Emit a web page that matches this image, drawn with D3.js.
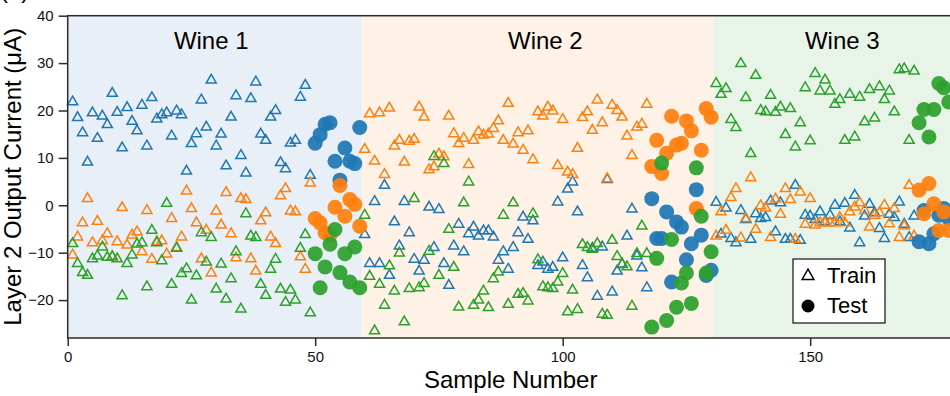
<!DOCTYPE html>
<html>
<head>
<meta charset="utf-8">
<script src="https://cdn.jsdelivr.net/npm/d3@7"></script>
<style>
  body { margin: 0; background: #fff; }
  svg { display: block; font-family: "Liberation Sans", Arial, sans-serif; }
</style>
</head>
<body>
<svg class="chart" width="950" height="396"></svg>
<script>
// wine classes and where each one sits on the sample axis
const wines = ["Wine 1", "Wine 2", "Wine 3"]
const wineBounds = [0, 59.5, 130.5, 179]
const wineLabelAt = [29, 96.5, 156.5]

// sample numbers used for training / testing in each wine class
const trainRanges = [[1, 49], [60, 117], [131, 171]]
const testRanges = [[50, 59], [118, 130], [172, 178]]

// layer 2 output currents (uA), train samples in sample order
const trainOut1 = [
  21.8, 18.5, 15.3, 9.1, 19.5, 14.1, 18.8, 17.0, 23.6, 19.6, 12.1, 20.6, 17.7, 15.7, 21.1, 12.5, 22.7, 18.2, 19.1, 19.5,
  14.6, 19.9, 19.1, 7.2, 13.0, 15.1, 22.2, 16.5, 26.4, 12.5, 15.0, 8.3, 18.6, 23.1, 10.5, 6.8, 22.5, 26.0, 15.0, 13.7,
  18.6, 20.0, 9.0, 7.7, 13.1, 13.7, 22.8, 25.3, 6.3,
  -6.2, -12.3, 0.8, -12.3, 4.2, -14.8, -3.5, -8.6, 0.8, -5.8, -11.4, -13.9, -11.6, -0.4, -8.9, -0.9, -12.3, -16.9, -8.6, -4.0,
  -9.8, -6.0, -4.6, -6.5, -5.4, -5.4, -6.7, -11.6, -9.8, -13.5, -8.9, -5.8, -2.5, -7.2, -3.3, -12.7, -12.0, -13.5, -13.1, 0.7,
  -11.1, 3.4, 4.9, -1.4, -12.7, -15.3, -9.1, -19.2, -8.8, 5.4, -18.3, -13.9, -12.4, -6.5, -0.8, -10.7, -13.2, -17.4,
  0.6, -6.1, -0.6, -7.0, -7.9, -1.1, -3.0, -7.2, -1.8, -2.8, -2.6, 0.9, -5.6, 0.5, -7.2, -7.2, 4.2, -7.4, -2.1, -2.3,
  -3.0, -1.4, -3.5, -2.1, 0.0, -3.5, 0.4, -4.8, 2.1, -7.9, -2.3, 0.2, -1.6, -4.9, -7.0, -1.9, -2.6, 0.7, -4.0, -6.8, -2.3
]
const trainOut2 = [
  -10.5, -6.7, -3.7, 1.4, -7.9, -3.4, -7.5, -6.0, -10.8, -7.7, -0.5, -8.4, -6.3, -5.6, -9.8, -1.1, -11.4, -7.7, -7.5, -10.3,
  -2.8, -8.9, -6.7, 3.0, -0.7, -3.7, -11.3, -5.3, -14.3, -1.2, -4.2, 2.7, -6.0, -11.1, 1.4, 1.2, -11.3, -13.9, -3.3, -1.6,
  -6.7, -8.1, 2.0, 3.5, -1.2, -1.4, -10.9, -13.5, 4.7,
  11.8, 19.3, 9.3, 19.5, 6.5, 20.5, 12.5, 13.7, 9.1, 13.5, 13.9, 20.7, 18.6, 7.5, 8.1, 10.8, 10.2, 18.8, 15.1, 13.0,
  14.1, 8.6, 13.7, 15.5, 14.8, 15.0, 16.2, 17.8, 13.7, 21.5, 12.9, 15.3, 11.6, 15.7, 9.6, 19.7, 18.8, 20.7, 19.9, 8.4,
  18.1, 7.0, 6.5, 12.0, 18.5, 19.7, 15.8, 22.2, 17.4, 5.6, 21.1, 20.0, 18.6, 14.6, 10.5, 16.5, 17.1, 21.3,
  -6.5, -1.4, -5.3, 1.6, 3.5, -6.9, -2.8, 5.8, -5.1, -0.1, -0.6, -6.8, 1.3, -1.9, 3.5, 1.2, -7.2, 2.8, -4.0, 1.4,
  -4.2, -3.7, -3.7, -3.7, -3.7, -2.6, -3.7, -1.4, -0.4, 0.5, -1.1, -4.6, -2.1, -1.6, 0.0, -3.9, -0.7, -6.8, -4.4, 4.2, -6.5
]
const trainOut3 = [
  -8.1, -12.3, -14.2, -14.8, -11.3, -10.7, -8.8, -11.0, -10.9, -11.3, -19.1, -12.3, -10.5, -8.2, -7.9, -17.2, -5.3, -7.9, -11.7, 0.4,
  -16.7, -9.1, -14.4, -13.4, -20.0, -14.9, -5.8, -12.0, -6.8, -17.7, -12.4, -19.8, -15.5, -9.8, -21.9, -1.8, -6.5, -6.8, -16.7, -19.0,
  -13.5, -11.4, -17.7, -20.5, -17.9, -20.0, -9.1, -6.2, -22.7,
  -2.1, -15.0, -26.5, -16.7, -21.1, -12.8, -18.1, -10.1, -24.6, -17.6, 1.4, -17.4, -16.5, -9.7, 10.3, -14.8, 8.8, -5.1, -13.1, -21.5,
  0.5, 4.9, -21.1, -20.0, -18.1, -21.6, -15.5, -14.1, -2.1, -20.9, 0.5, -18.8, -18.6, -20.2, -1.8, -11.5, -17.2, -17.4, -17.6, -16.2,
  -14.4, -22.5, -17.9, -22.0, -8.3, -8.9, -9.3, -8.1, -23.0, -23.2, -7.4, -10.8, -12.5, -13.0, -21.3, -10.2, -4.4, -10.2,
  25.7, 23.4, 24.6, 18.1, 16.4, 29.9, 22.7, 10.9, 27.4, 20.0, 19.7, 23.2, 19.6, 20.7, 14.9, 20.4, 12.3, 17.4, 24.8, 13.6,
  27.8, 24.1, 26.4, 24.1, 21.3, 22.3, 13.7, 23.4, 14.4, 22.8, 17.6, 24.4, 18.4, 25.0, 22.3, 24.1, 19.7, 28.6, 28.8, 13.7, 28.3
]

// test samples in sample order
const testOut1 = [
  13.1, 14.9, 17.1, 17.4, 9.3, 5.3, 12.1, 9.3, 8.8, 16.4,
  1.4, -7.0, -7.0, -1.4, -16.2, -3.5, -4.6, -11.5, -8.1, 3.3, -6.3, -14.8, -13.7,
  -7.7, -1.1, -8.1, -6.0, -2.1, -0.7, -2.8
]
const testOut2 = [
  -2.8, -3.7, -5.8, -6.3, -0.4, 4.2, -2.3, 1.2, 0.2, -4.4,
  8.2, 13.7, 6.7, 11.0, 18.8, 12.7, 13.1, 17.8, 15.7, -0.7, 11.6, 20.4, 18.6,
  3.2, -1.8, 4.6, 0.3, -5.3, -1.4, -5.3
]
const testOut3 = [
  -10.2, -17.4, -13.0, -8.2, -5.1, -14.2, -10.2, -16.2, -8.8, -17.4,
  -25.7, -11.2, 8.9, -24.3, -7.2, -21.5, -16.4, -14.3, -20.7, 7.9, -2.3, -14.3, -9.8,
  17.4, 20.2, 14.4, 20.2, 25.7, 24.8, 21.8
]

const xTicks = [0, 50, 100, 150]
const yTicks = [-20, -10, 0, 10, 20, 30, 40]

const colors = ["#1f77b4", "#ff7f0e", "#2ca02c"]
const bandColors = ["#e8eff6", "#fef1e6", "#e9f4e9"]

var width = 950
    height = 396
    margin = {top: 15.7, right: -3.7, bottom: 58, left: 67.7}

const svg = d3.select(".chart")

const x = d3.scaleLinear().domain([0, 179]).range([margin.left, width - margin.right])
const y = d3.scaleLinear().domain([-28, 40]).range([height - margin.bottom, margin.top])

function samples(ranges){
  var s = []
  ranges.forEach(r => { s = s.concat(d3.range(r[0], r[1] + 1)) })
  return s
}
const trainX = samples(trainRanges)
const testX = samples(testRanges)

// shaded class bands
svg.selectAll('band')
  .data(wines)
  .enter()
  .append('rect')
  .attr('x', (d, i) => x(wineBounds[i]))
  .attr('width', (d, i) => x(wineBounds[i + 1]) - x(wineBounds[i]))
  .attr('y', y(40))
  .attr('height', y(-28) - y(40))
  .attr('fill', (d, i) => bandColors[i])

svg.selectAll('wlabel')
  .data(wines)
  .enter()
  .append('text')
  .attr('x', (d, i) => x(wineLabelAt[i]))
  .attr('y', 48.5)
  .attr('text-anchor', 'middle')
  .style('font-size', '24px')
  .text(d => d)

// train: open triangles
const tri = d3.symbol().type(d3.symbolTriangle).size(44)
;[trainOut1, trainOut2, trainOut3].forEach(function(vals, k){
  svg.append('g')
    .selectAll('path')
    .data(vals)
    .enter()
    .append('path')
    .attr('d', tri)
    .attr('transform', (d, i) => 'translate(' + x(trainX[i]) + ',' + y(d) + ')')
    .attr('fill', 'none')
    .attr('stroke', colors[k])
    .attr('stroke-width', 1.5)
})

// test: filled circles
;[testOut1, testOut2, testOut3].forEach(function(vals, k){
  svg.append('g')
    .selectAll('circle')
    .data(vals)
    .enter()
    .append('circle')
    .attr('cx', (d, i) => x(testX[i]))
    .attr('cy', d => y(d))
    .attr('r', 7.5)
    .attr('fill', colors[k])
    .style('opacity', 0.93)
})

// frame
svg.append('rect')
  .attr('x', x(0))
  .attr('y', y(40))
  .attr('width', x(179) - x(0))
  .attr('height', y(-28) - y(40))
  .attr('fill', 'none')
  .attr('stroke', '#2b2b2b')
  .attr('stroke-width', 1.5)

const xAxis = svg.append('g')
  .attr('transform', 'translate(0,' + y(-28) + ')')
  .call(d3.axisBottom(x).tickValues(xTicks).tickSize(8).tickSizeOuter(0).tickPadding(5))
const yAxis = svg.append('g')
  .attr('transform', 'translate(' + x(0) + ',0)')
  .call(d3.axisLeft(y).tickValues(yTicks).tickSize(9).tickSizeOuter(0).tickPadding(5))

;[xAxis, yAxis].forEach(function(a){
  a.select('.domain').remove()
  a.selectAll('line').attr('stroke', '#2b2b2b').attr('stroke-width', 1.5)
  a.selectAll('text').attr('fill', '#111').style('font-size', '15px')
    .style('font-family', '"Liberation Sans", Arial, sans-serif')
})

svg.append('text')
  .attr('x', (x(0) + x(179)) / 2)
  .attr('y', 388)
  .attr('text-anchor', 'middle')
  .style('font-size', '24px')
  .text('Sample Number')

svg.append('text')
  .attr('transform', 'translate(21,' + (y(40) + y(-28)) / 2 + ') rotate(-90)')
  .attr('text-anchor', 'middle')
  .style('font-size', '24px')
  .text('Layer 2 Output Current (μA)')

// panel label, mostly cut off at the top as in the source figure
svg.append('text')
  .attr('x', 0)
  .attr('y', -2)
  .style('font-size', '24px')
  .text('(b)')

// legend
const lg = svg.append('g').attr('transform', 'translate(793,259)')
lg.append('rect')
  .attr('width', 92).attr('height', 64)
  .attr('fill', '#fff').attr('stroke', '#111').attr('stroke-width', 1.2)
lg.append('path')
  .attr('d', d3.symbol().type(d3.symbolTriangle).size(60)())
  .attr('transform', 'translate(15,17)')
  .attr('fill', 'none').attr('stroke', '#000').attr('stroke-width', 1.5)
lg.append('circle')
  .attr('cx', 15).attr('cy', 47).attr('r', 6.5).attr('fill', '#000')
lg.append('text').attr('x', 34).attr('y', 24).style('font-size', '22px').text('Train')
lg.append('text').attr('x', 34).attr('y', 54).style('font-size', '22px').text('Test')
</script>
</body>
</html>
